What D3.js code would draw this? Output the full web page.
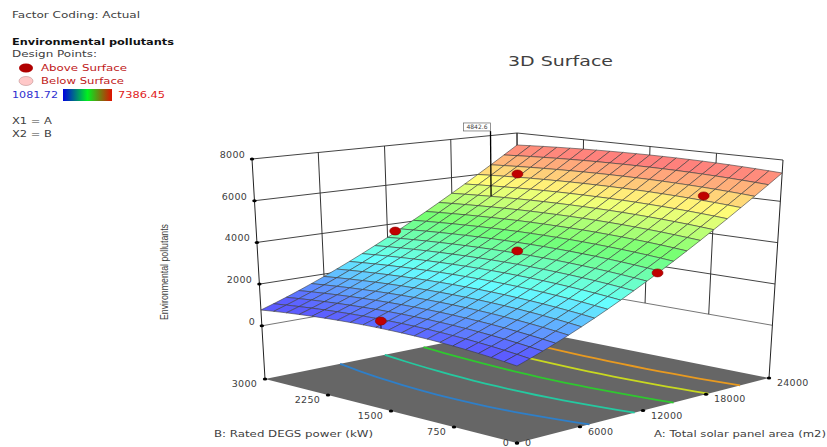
<!DOCTYPE html>
<html>
<head>
<meta charset="utf-8">
<script src="https://cdn.jsdelivr.net/npm/d3@7"></script>
<style>
body { margin: 0; background: #fff; }
text { font-family: "DejaVu Sans", sans-serif; fill: #404040; }
</style>
</head>
<body>
<script>
var areaTicks = [0, 6000, 12000, 18000, 24000];
var powerTicks = [0, 750, 1500, 2250, 3000];
var pollutantTicks = [0, 2000, 4000, 6000, 8000];
var contourLevels = [2132, 3183, 4234, 5285, 6335];
var contourColors = ["#2f7fc8", "#25c9a0", "#2fc82f", "#c8d820", "#e89a20"];

// design points, A / B / response
var pointA = [0, 12000, 12960, 12720, 20500, 20500];
var pointB = [1590, 1500, 0, 3000, 2560, 440];
var pointZ = [1490, 3780, 3680, 3620, 6281, 6350];

var flagA = 18000, flagB = 2550, flagTop = 8680, flagLabel = "4842.6";

// surface heights, one row per B step (0..3000), one column per A step (0..24000)
var surface = [
[821,1016,1224,1447,1683,1934,2198,2477,2769,3076,3396,3731,4079,4442,4818,5209,5613,6032,6464,6911,7371],
[887,1081,1287,1509,1743,1993,2256,2533,2824,3129,3448,3782,4128,4490,4864,5254,5657,6074,6505,6950,7409],
[946,1138,1344,1564,1797,2046,2307,2583,2872,3177,3494,3826,4172,4532,4905,5294,5695,6111,6540,6985,7442],
[998,1189,1393,1613,1845,2092,2352,2627,2916,3219,3535,3866,4210,4570,4942,5329,5729,6144,6573,7016,7472],
[1042,1232,1436,1654,1885,2132,2391,2665,2952,3255,3570,3900,4244,4602,4973,5360,5759,6173,6600,7043,7498],
[1079,1269,1471,1689,1919,2165,2423,2697,2983,3285,3599,3929,4271,4629,4999,5385,5783,6197,6623,7065,7519],
[1109,1298,1500,1717,1947,2192,2449,2722,3008,3309,3623,3952,4294,4651,5021,5406,5803,6216,6642,7083,7537],
[1132,1320,1522,1738,1968,2212,2470,2742,3028,3328,3642,3970,4311,4668,5037,5422,5819,6232,6657,7098,7551],
[1147,1335,1536,1752,1982,2226,2483,2755,3040,3340,3654,3982,4323,4679,5048,5432,5829,6241,6667,7107,7560],
[1155,1343,1544,1760,1989,2233,2490,2762,3047,3347,3660,3988,4329,4685,5054,5438,5835,6247,6672,7112,7565],
[1155,1343,1544,1760,1989,2233,2490,2762,3047,3347,3660,3988,4329,4685,5054,5438,5835,6247,6672,7112,7565],
[1148,1336,1537,1754,1983,2227,2484,2756,3042,3342,3655,3983,4324,4681,5050,5434,5831,6243,6669,7109,7562],
[1134,1323,1524,1741,1970,2215,2472,2745,3030,3331,3645,3973,4315,4671,5041,5425,5823,6235,6661,7101,7555],
[1113,1302,1504,1721,1951,2196,2454,2727,3013,3314,3629,3958,4300,4657,5027,5412,5810,6223,6649,7090,7544],
[1084,1274,1476,1694,1925,2171,2429,2703,2990,3291,3606,3936,4278,4636,5007,5393,5791,6205,6632,7073,7528],
[1048,1239,1442,1661,1892,2139,2398,2673,2960,3263,3579,3909,4253,4611,4983,5369,5769,6183,6611,7053,7509],
[1005,1197,1401,1621,1853,2101,2361,2637,2925,3229,3545,3877,4221,4581,4953,5341,5741,6157,6585,7029,7485],
[955,1148,1353,1574,1808,2056,2318,2595,2884,3189,3507,3839,4185,4546,4919,5308,5709,6126,6556,7000,7458],
[897,1091,1298,1520,1755,2005,2268,2546,2837,3143,3462,3795,4142,4504,4879,5269,5672,6090,6521,6967,7426],
[832,1027,1236,1459,1696,1947,2212,2491,2784,3091,3412,3747,4095,4459,4835,5227,5631,6051,6483,6931,7391],
[759,956,1166,1391,1629,1882,2148,2429,2723,3032,3354,3692,4042,4407,4785,5178,5584,6005,6439,6888,7350]
];

var width = 827, height = 447;
var floorZ = -2550, topZ = 8000;
var areaMax = 24000, powerMax = 3000;

var svg = d3.select("body").append("svg").attr("width", width).attr("height", height);

var sa = d3.scaleLinear().domain([0, areaMax]).range([0, 1]);
var sb = d3.scaleLinear().domain([0, powerMax]).range([0, 1]);
var sz = d3.scaleLinear().domain([floorZ, topZ]).range([0, 1]);

var color = d3.scaleLinear()
	.domain([1081.72, 2657.9, 4234.1, 5810.3, 7386.45])
	.range(["#5c5cff", "#66ffff", "#74ff74", "#ffff78", "#ff7c7c"])
	.clamp(true);

// the box as it lands on the page, floor corners then top corners
// index is [a][b]
var floorX = [[517, 265], [769, 518]], floorY = [[443, 379], [378, 328]];
var topX = [[517, 252], [783, 517]], topY = [[202, 159], [160, 133]];

function mix(m, a, b) {
	return m[0][0] * (1 - a) * (1 - b) + m[1][0] * a * (1 - b) + m[0][1] * (1 - a) * b + m[1][1] * a * b;
}

function project(A, B, Z) {
	var a = sa(A), b = sb(B), t = sz(Z);
	var fx = mix(floorX, a, b), fy = mix(floorY, a, b);
	return [fx + (mix(topX, a, b) - fx) * t, fy + (mix(topY, a, b) - fy) * t];
}

var line = d3.line();
var rowA = function (i) { return i * areaMax / 20; };
var rowB = function (j) { return j * powerMax / 20; };

function wallLine(p, q, col, w) {
	svg.append("path").attr("d", line([p, q])).attr("fill", "none").attr("stroke", col).attr("stroke-width", w);
}

// floor
svg.append("path")
	.attr("d", line([project(0, 0, floorZ), project(areaMax, 0, floorZ), project(areaMax, powerMax, floorZ), project(0, powerMax, floorZ)]) + "Z")
	.attr("fill", "#666666");

// contours on the floor
contourLevels.forEach(function (lvl, k) {
	var pts = [];
	surface.forEach(function (row, j) {
		for (var i = 0; i < 20; i++) {
			if (row[i] <= lvl && lvl < row[i + 1]) {
				var f = (lvl - row[i]) / (row[i + 1] - row[i]);
				pts.push(project(rowA(i + f), rowB(j), floorZ));
				break;
			}
		}
	});
	svg.append("path").attr("d", line(pts)).attr("fill", "none")
		.attr("stroke", contourColors[k]).attr("stroke-width", 1.8);
});

// back walls
pollutantTicks.forEach(function (z) {
	var col = z == 0 ? "#777" : "#444";
	wallLine(project(0, powerMax, z), project(areaMax, powerMax, z), col, 1);
	wallLine(project(areaMax, 0, z), project(areaMax, powerMax, z), col, 1);
});
areaTicks.slice(1).forEach(function (v) {
	wallLine(project(v, powerMax, 0), project(v, powerMax, topZ), "#333", 1);
});
powerTicks.slice(1).forEach(function (v) {
	wallLine(project(areaMax, v, 0), project(areaMax, v, topZ), "#333", 1);
});
wallLine(project(0, powerMax, floorZ), project(0, powerMax, topZ), "#222", 1);
wallLine(project(areaMax, 0, floorZ), project(areaMax, 0, topZ), "#222", 1);

// surface cells, back to front
for (var j = 19; j >= 0; j--) {
	for (var i = 19; i >= 0; i--) {
		var mean = d3.mean([surface[j][i], surface[j][i + 1], surface[j + 1][i], surface[j + 1][i + 1]]);
		svg.append("path")
			.attr("d", line([
				project(rowA(i), rowB(j), surface[j][i]),
				project(rowA(i + 1), rowB(j), surface[j][i + 1]),
				project(rowA(i + 1), rowB(j + 1), surface[j + 1][i + 1]),
				project(rowA(i), rowB(j + 1), surface[j + 1][i])
			]) + "Z")
			.attr("fill", color(mean))
			.attr("stroke", "#3a3a3a")
			.attr("stroke-width", 0.6);
	}
}

// stems and design points
pointA.forEach(function (A, k) {
	var i = Math.round(A / areaMax * 20), j = Math.round(pointB[k] / powerMax * 20);
	wallLine(project(A, pointB[k], surface[j][i]), project(A, pointB[k], pointZ[k]), "#111", 1);
});
pointA.forEach(function (A, k) {
	var p = project(A, pointB[k], pointZ[k]);
	svg.append("ellipse").attr("cx", p[0]).attr("cy", p[1]).attr("rx", 5.5).attr("ry", 4)
		.attr("fill", "#c00000").attr("stroke", "#8a0000").attr("stroke-width", 0.6);
});

// flag
var flagBase = project(flagA, flagB, surface[17][15]);
var flagEnd = project(flagA, flagB, flagTop);
wallLine(flagBase, flagEnd, "#000", 1.3);
svg.append("rect").attr("x", flagEnd[0] - 27).attr("y", flagEnd[1] - 8).attr("width", 27).attr("height", 8)
	.attr("fill", "#fff").attr("stroke", "#666").attr("stroke-width", 0.7);
svg.append("text").attr("x", flagEnd[0] - 13.5).attr("y", flagEnd[1] - 1.8).attr("text-anchor", "middle")
	.attr("font-size", 6).text(flagLabel);

// ticks
function tickDot(p) {
	svg.append("ellipse").attr("cx", p[0]).attr("cy", p[1]).attr("rx", 2.2).attr("ry", 1.5).attr("fill", "#000");
}
function tickText(x, y, s, anchor) {
	svg.append("text").attr("x", Math.round(x)).attr("y", Math.min(y, 445.5)).attr("text-anchor", anchor)
		.attr("font-size", 9.5).attr("letter-spacing", 0.25).text(s);
}
pollutantTicks.forEach(function (z) {
	var p = project(0, powerMax, z);
	tickDot(p);
	tickText(p[0] - 7, p[1] - 1, z, "end");
});
powerTicks.forEach(function (v) {
	var p = project(0, v, floorZ);
	tickDot(p);
	tickText(p[0] - 8, p[1] + 8, v, "end");
});
areaTicks.forEach(function (v) {
	var p = project(v, 0, floorZ);
	tickDot(p);
	tickText(p[0] + 8, p[1] + 8, v, "start");
});

// titles
svg.append("text").attr("x", 508).attr("y", 66).attr("font-size", 13.5).attr("textLength", 105)
	.attr("lengthAdjust", "spacingAndGlyphs").text("3D Surface");
svg.append("text").attr("x", 214).attr("y", 437).attr("font-size", 9.5).attr("textLength", 159)
	.attr("lengthAdjust", "spacingAndGlyphs").text("B: Rated DEGS power (kW)");
svg.append("text").attr("x", 654).attr("y", 437).attr("font-size", 9.5).attr("textLength", 172)
	.attr("lengthAdjust", "spacingAndGlyphs").text("A: Total solar panel area (m2)");
svg.append("text").attr("transform", "translate(168,272) rotate(-90)").attr("text-anchor", "middle")
	.style("font-family", "'Liberation Sans Narrow', 'Liberation Sans', sans-serif")
	.attr("font-size", 10).attr("textLength", 96).attr("lengthAdjust", "spacingAndGlyphs").text("Environmental pollutants");

// legend
function legendText(x, y, s, fill, len, bold) {
	svg.append("text").attr("x", x).attr("y", y).attr("font-size", 9.5).style("fill", fill)
		.attr("font-weight", bold ? "bold" : null)
		.attr("textLength", len).attr("lengthAdjust", "spacingAndGlyphs").text(s);
}
legendText(12, 18, "Factor Coding: Actual", "#404040", 128);
legendText(12, 45, "Environmental pollutants", "#111", 162, true);
legendText(12, 57, "Design Points:", "#404040", 85);
legendText(41, 71, "Above Surface", "#c01818", 86);
legendText(41, 84, "Below Surface", "#c01818", 83);
legendText(12, 98, "1081.72", "#3030d0", 46);
legendText(118, 98, "7386.45", "#e02020", 47);
legendText(12, 124, "X1 = A", "#404040", 40);
legendText(12, 137, "X2 = B", "#404040", 40);

svg.append("ellipse").attr("cx", 26).attr("cy", 68).attr("rx", 7).attr("ry", 4.5).attr("fill", "#b00000");
svg.append("ellipse").attr("cx", 26).attr("cy", 81).attr("rx", 7).attr("ry", 4.5).attr("fill", "#ffc8c8").attr("stroke", "#c09090").attr("stroke-width", 0.6);

var grad = svg.append("defs").append("linearGradient").attr("id", "legendRamp");
[["0%", "#0000e0"], ["50%", "#00f020"], ["100%", "#e01000"]].forEach(function (s) {
	grad.append("stop").attr("offset", s[0]).attr("stop-color", s[1]);
});
svg.append("rect").attr("x", 63).attr("y", 89).attr("width", 49).attr("height", 12).attr("fill", "url(#legendRamp)");
</script>
</body>
</html>
